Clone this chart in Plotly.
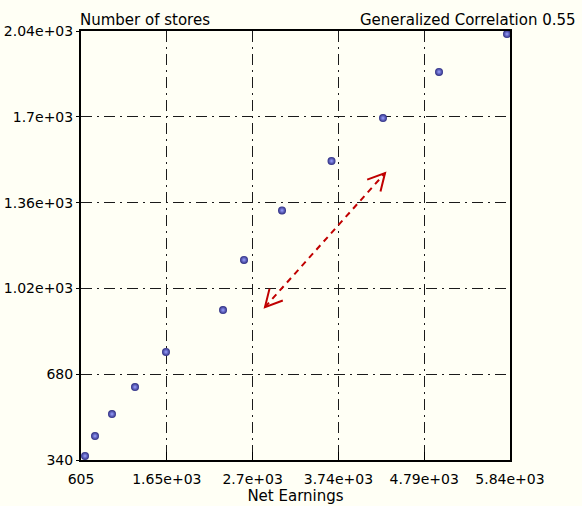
import math
import plotly.graph_objects as go

# ---- data ----
net_earnings = [654, 776, 983, 1264, 1642, 2338, 2594, 3058, 3662, 4290, 4974, 5803]
num_stores = [356, 435, 522, 629, 768, 934, 1133, 1329, 1525, 1695, 1878, 2028]

x_tick_vals = [605, 1652, 2699, 3746, 4793, 5840]
x_tick_text = ["605", "1.65e+03", "2.7e+03", "3.74e+03", "4.79e+03", "5.84e+03"]
y_tick_vals = [340, 680, 1020, 1360, 1700, 2040]
y_tick_text = ["340", "680", "1.02e+03", "1.36e+03", "1.7e+03", "2.04e+03"]

x_title = "Net Earnings"
y_title = "Number of stores"
corr_text = "Generalized Correlation 0.55"

arrow_start = (2850, 946)
arrow_end = (4315, 1477)

# ---- layout constants ----
W, H = 582, 506
ML, MT = 81, 31
PW, PH = 429, 429
MR = W - ML - PW
MB = H - MT - PH
XR = [605, 5840]
YR = [340, 2040]
BG = "#fffff5"
FONT = "DejaVu Sans"
ARROW_COLOR = "#c00000"

fig = go.Figure()
fig.add_trace(go.Scatter(
    x=net_earnings, y=num_stores, mode="markers",
    marker=dict(size=8, color="#2c2c80",
                gradient=dict(type="radial", color="#9aa0ff"),
                line=dict(width=0)),
    showlegend=False, hoverinfo="x+y", cliponaxis=False,
))

grid = dict(showgrid=True, gridcolor="#1a1a1a", gridwidth=1, griddash="11px,5px,2px,5px")

fig.update_layout(
    width=W, height=H,
    margin=dict(l=ML, r=MR, t=MT, b=MB, pad=0, autoexpand=False),
    paper_bgcolor=BG, plot_bgcolor=BG,
    font=dict(family=FONT, size=14, color="#000000"),
    xaxis=dict(range=XR, tickmode="array", tickvals=x_tick_vals, ticktext=x_tick_text,
               showline=True, linecolor="#000000", linewidth=2, mirror=True,
               ticks="inside", ticklen=8, tickcolor="#000000", automargin=False,
               zeroline=False, tickfont=dict(size=14), ticklabelstandoff=5,
               title=dict(text=x_title, font=dict(size=15), standoff=4), **grid),
    yaxis=dict(range=YR, tickmode="array", tickvals=y_tick_vals, ticktext=y_tick_text,
               showline=True, linecolor="#000000", linewidth=2, mirror=True,
               ticks="outside", ticklen=3, tickcolor="#000000", automargin=False,
               zeroline=False, tickfont=dict(size=14), **grid),
)

fig.add_annotation(text=y_title, xref="paper", yref="paper", x=0, y=1,
                   xanchor="left", yanchor="bottom", showarrow=False,
                   font=dict(size=15), xshift=-3, yshift=0)
fig.add_annotation(text=corr_text, xref="paper", yref="paper", x=(578 - ML) / PW, y=1,
                   xanchor="right", yanchor="bottom", showarrow=False,
                   font=dict(size=15), yshift=0)

# ---- double-headed dashed arrow ----
sx = (XR[1] - XR[0]) / PW
sy = (YR[1] - YR[0]) / PH


def to_px(p):
    return ((p[0] - XR[0]) / sx, -(p[1] - YR[0]) / sy)


def to_data(px, py):
    return (XR[0] + px * sx, YR[0] - py * sy)


fig.add_shape(type="line", xref="x", yref="y",
              x0=arrow_start[0], y0=arrow_start[1], x1=arrow_end[0], y1=arrow_end[1],
              line=dict(color=ARROW_COLOR, width=2, dash="6px,5px"))


def head(tip, other, length=19, ang=28):
    tx, ty = to_px(tip)
    ox, oy = to_px(other)
    a = math.atan2(oy - ty, ox - tx)
    pts = []
    for s in (-1, 1):
        b = a + s * math.radians(ang)
        pts.append(to_data(tx + length * math.cos(b), ty + length * math.sin(b)))
    t = tip
    path = f"M {pts[0][0]},{pts[0][1]} L {t[0]},{t[1]} L {pts[1][0]},{pts[1][1]}"
    fig.add_shape(type="path", xref="x", yref="y", path=path,
                  line=dict(color=ARROW_COLOR, width=2))


head(arrow_end, arrow_start)
head(arrow_start, arrow_end)

fig.write_html("out.html", config={"displayModeBar": False},
               post_script="document.body.style.margin='0';document.body.style.overflow='hidden';")
